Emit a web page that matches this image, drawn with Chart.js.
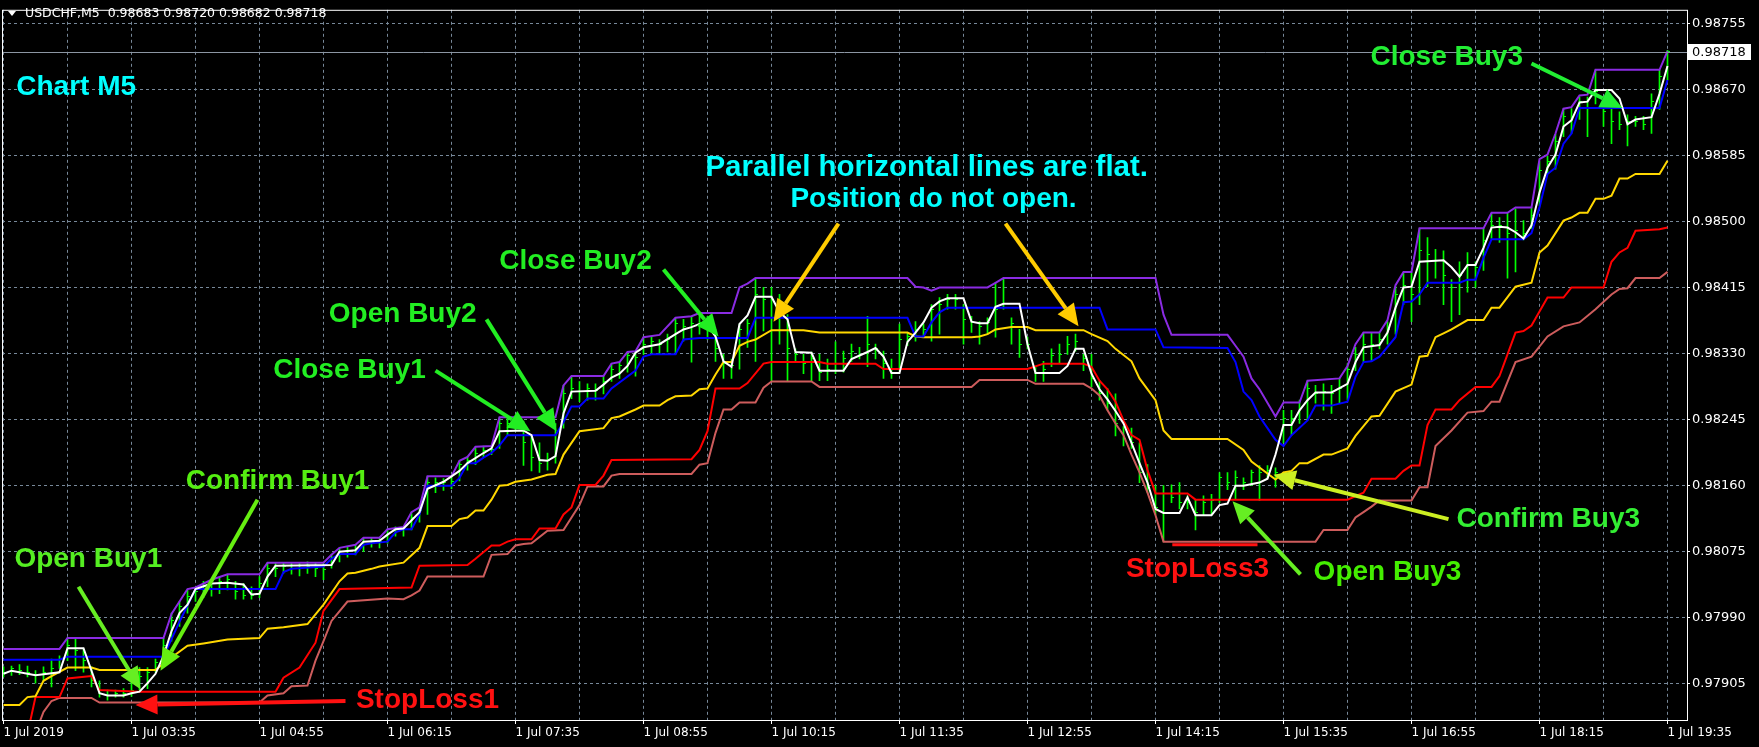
<!DOCTYPE html>
<html><head><meta charset="utf-8">
<script src="https://cdn.jsdelivr.net/npm/chart.js@4/dist/chart.umd.min.js"></script>
<style>html,body{margin:0;padding:0;background:#000;overflow:hidden}canvas{display:block}</style>
</head><body>
<canvas id="c" width="1759" height="747"></canvas>
<script>
// ---------- data ----------
const symbolTitle = 'USDCHF,M5  0.98683 0.98720 0.98682 0.98718';
const lastPrice = 0.98718;
const priceTicks = [0.97905,0.97990,0.98075,0.98160,0.98245,0.98330,0.98415,0.98500,0.98585,0.98670,0.98755];
const labelBars = [0,16,32,48,64,80,96,112,128,144,160,176,192,208];
const timeLabels = ['1 Jul 2019','1 Jul 03:35','1 Jul 04:55','1 Jul 06:15','1 Jul 07:35','1 Jul 08:55','1 Jul 10:15','1 Jul 11:35','1 Jul 12:55','1 Jul 14:15','1 Jul 15:35','1 Jul 16:55','1 Jul 18:15','1 Jul 19:35'];
const gridBars = [0,8,16,24,32,40,48,56,64,72,80,88,96,104,112,120,128,136,144,152,160,168,176,184,192,200,208];

const barHigh = [0.97927,0.97928,0.97930,0.97928,0.97922,0.97927,0.97937,0.97941,0.97964,0.97963,
0.97950,0.97927,0.97909,0.97897,0.97897,0.97899,0.97909,0.97926,0.97926,0.97937,
0.97964,0.97996,0.98011,0.98026,0.98029,0.98037,0.98039,0.98042,0.98046,0.98037,
0.98034,0.98030,0.98043,0.98061,0.98060,0.98061,0.98061,0.98060,0.98062,0.98061,
0.98061,0.98071,0.98080,0.98081,0.98084,0.98093,0.98093,0.98093,0.98104,0.98107,
0.98107,0.98126,0.98132,0.98172,0.98170,0.98169,0.98172,0.98192,0.98197,0.98210,
0.98211,0.98211,0.98248,0.98248,0.98248,0.98243,0.98225,0.98215,0.98202,0.98240,
0.98289,0.98301,0.98294,0.98291,0.98291,0.98301,0.98317,0.98319,0.98332,0.98333,
0.98351,0.98352,0.98348,0.98355,0.98376,0.98374,0.98378,0.98382,0.98378,0.98361,
0.98329,0.98323,0.98368,0.98374,0.98427,0.98415,0.98415,0.98406,0.98380,0.98336,
0.98329,0.98332,0.98329,0.98323,0.98345,0.98333,0.98342,0.98338,0.98378,0.98342,
0.98333,0.98323,0.98368,0.98357,0.98371,0.98368,0.98393,0.98402,0.98406,0.98406,
0.98393,0.98378,0.98371,0.98376,0.98421,0.98427,0.98376,0.98361,0.98351,0.98313,
0.98320,0.98336,0.98342,0.98352,0.98355,0.98329,0.98329,0.98295,0.98285,0.98278,
0.98236,0.98234,0.98215,0.98187,0.98160,0.98160,0.98161,0.98164,0.98147,0.98142,
0.98147,0.98149,0.98177,0.98177,0.98179,0.98170,0.98180,0.98186,0.98186,0.98183,
0.98257,0.98257,0.98270,0.98295,0.98289,0.98291,0.98289,0.98298,0.98317,0.98338,
0.98357,0.98357,0.98357,0.98371,0.98416,0.98434,0.98434,0.98491,0.98479,0.98464,
0.98462,0.98425,0.98448,0.98460,0.98448,0.98491,0.98510,0.98505,0.98511,0.98516,
0.98501,0.98518,0.98577,0.98584,0.98612,0.98645,0.98645,0.98660,0.98660,0.98695,
0.98651,0.98644,0.98641,0.98637,0.98635,0.98635,0.98664,0.98695,0.98720];

const barLow = [0.97914,0.97916,0.97917,0.97914,0.97906,0.97909,0.97901,0.97925,0.97935,0.97922,
0.97920,0.97901,0.97888,0.97884,0.97888,0.97888,0.97889,0.97897,0.97899,0.97920,
0.97932,0.97960,0.97979,0.97996,0.98011,0.98016,0.98018,0.98021,0.98026,0.98014,
0.98014,0.98014,0.98016,0.98030,0.98043,0.98047,0.98046,0.98044,0.98047,0.98043,
0.98039,0.98054,0.98062,0.98068,0.98071,0.98075,0.98081,0.98080,0.98086,0.98095,
0.98095,0.98103,0.98113,0.98123,0.98151,0.98154,0.98156,0.98166,0.98180,0.98187,
0.98196,0.98200,0.98208,0.98225,0.98230,0.98186,0.98179,0.98177,0.98180,0.98189,
0.98234,0.98272,0.98268,0.98270,0.98270,0.98278,0.98294,0.98298,0.98306,0.98301,
0.98329,0.98329,0.98329,0.98332,0.98329,0.98346,0.98319,0.98355,0.98348,0.98320,
0.98298,0.98298,0.98310,0.98338,0.98320,0.98359,0.98295,0.98342,0.98295,0.98319,
0.98304,0.98295,0.98295,0.98295,0.98304,0.98306,0.98320,0.98323,0.98313,0.98323,
0.98298,0.98298,0.98308,0.98340,0.98346,0.98351,0.98346,0.98355,0.98387,0.98387,
0.98342,0.98357,0.98342,0.98355,0.98351,0.98387,0.98342,0.98325,0.98336,0.98294,
0.98294,0.98313,0.98317,0.98329,0.98333,0.98308,0.98287,0.98270,0.98257,0.98224,
0.98211,0.98208,0.98164,0.98151,0.98123,0.98088,0.98138,0.98130,0.98130,0.98103,
0.98122,0.98122,0.98138,0.98155,0.98142,0.98155,0.98160,0.98141,0.98170,0.98158,
0.98215,0.98225,0.98240,0.98244,0.98266,0.98257,0.98253,0.98266,0.98270,0.98308,
0.98319,0.98320,0.98336,0.98342,0.98355,0.98393,0.98371,0.98393,0.98416,0.98427,
0.98393,0.98371,0.98380,0.98409,0.98415,0.98437,0.98478,0.98473,0.98427,0.98435,
0.98476,0.98491,0.98520,0.98562,0.98567,0.98609,0.98613,0.98631,0.98609,0.98651,
0.98622,0.98600,0.98618,0.98597,0.98622,0.98618,0.98613,0.98644,0.98682];

const barClose = [0.97920,0.97925,0.97922,0.97920,0.97916,0.97920,0.97925,0.97937,0.97954,0.97948,
0.97935,0.97909,0.97893,0.97890,0.97892,0.97893,0.97897,0.97915,0.97920,0.97932,
0.97954,0.97986,0.98005,0.98018,0.98024,0.98030,0.98034,0.98037,0.98039,0.98024,
0.98019,0.98019,0.98034,0.98054,0.98054,0.98056,0.98053,0.98054,0.98056,0.98054,
0.98052,0.98067,0.98075,0.98077,0.98079,0.98088,0.98089,0.98088,0.98098,0.98103,
0.98104,0.98119,0.98128,0.98164,0.98164,0.98164,0.98166,0.98187,0.98192,0.98202,
0.98205,0.98207,0.98240,0.98240,0.98243,0.98215,0.98196,0.98189,0.98192,0.98228,
0.98278,0.98285,0.98281,0.98285,0.98282,0.98294,0.98310,0.98314,0.98327,0.98325,
0.98342,0.98345,0.98342,0.98348,0.98368,0.98365,0.98368,0.98370,0.98361,0.98336,
0.98317,0.98314,0.98361,0.98368,0.98406,0.98399,0.98399,0.98380,0.98336,0.98329,
0.98317,0.98323,0.98306,0.98310,0.98317,0.98323,0.98332,0.98329,0.98342,0.98336,
0.98317,0.98306,0.98348,0.98352,0.98361,0.98361,0.98387,0.98393,0.98399,0.98399,
0.98374,0.98370,0.98365,0.98370,0.98387,0.98394,0.98368,0.98342,0.98342,0.98304,
0.98310,0.98327,0.98329,0.98342,0.98345,0.98323,0.98298,0.98278,0.98266,0.98240,
0.98221,0.98215,0.98177,0.98157,0.98132,0.98126,0.98145,0.98138,0.98138,0.98126,
0.98138,0.98141,0.98170,0.98164,0.98170,0.98164,0.98177,0.98177,0.98179,0.98177,
0.98247,0.98247,0.98259,0.98285,0.98278,0.98281,0.98278,0.98285,0.98310,0.98329,
0.98342,0.98342,0.98348,0.98361,0.98406,0.98418,0.98406,0.98463,0.98457,0.98450,
0.98431,0.98415,0.98431,0.98444,0.98441,0.98476,0.98495,0.98495,0.98485,0.98488,
0.98485,0.98507,0.98565,0.98577,0.98603,0.98635,0.98635,0.98654,0.98647,0.98667,
0.98641,0.98628,0.98625,0.98628,0.98628,0.98625,0.98654,0.98686,0.98718];

// indicator lines: [bar index, price] vertices
const channelUpper = [[0,0.97950],[7,0.97950],[8,0.97964],[20,0.97964],[21,0.97995],[23,0.98027],[24,0.98029],[26,0.98039],[28,0.98046],[32,0.98046],[33,0.98061],[40,0.98061],[41,0.98071],[42,0.98080],[44,0.98084],[45,0.98093],[47,0.98093],[48,0.98104],[50,0.98107],[51,0.98126],[52,0.98132],[53,0.98172],[56,0.98172],[57,0.98192],[58,0.98197],[59,0.98210],[61,0.98211],[62,0.98248],[69,0.98248],[70,0.98289],[71,0.98301],[75,0.98301],[76,0.98317],[77,0.98319],[78,0.98332],[79,0.98333],[80,0.98351],[82,0.98354],[84,0.98376],[86,0.98378],[87,0.98382],[91,0.98382],[92,0.98415],[93,0.98420],[94,0.98427],[113,0.98427],[114,0.98416],[115,0.98415],[116,0.98411],[117,0.98415],[123,0.98415],[124,0.98421],[125,0.98427],[144,0.98427],[145,0.98380],[146,0.98354],[153,0.98354],[154,0.98340],[155,0.98326],[156,0.98298],[157,0.98284],[159,0.98249],[160,0.98267],[162,0.98267],[163,0.98295],[167,0.98298],[168,0.98314],[169,0.98342],[170,0.98357],[172,0.98357],[173,0.98373],[174,0.98418],[175,0.98435],[176,0.98435],[177,0.98491],[185,0.98491],[186,0.98511],[188,0.98511],[189,0.98518],[191,0.98518],[192,0.98580],[193,0.98586],[194,0.98613],[195,0.98645],[196,0.98647],[197,0.98662],[198,0.98663],[199,0.98695],[207,0.98695],[208,0.98719]];

const channelMid = [[0,0.97936],[7,0.97936],[8,0.97940],[20,0.97940],[22,0.97985],[24,0.98027],[34,0.98027],[35,0.98049],[36,0.98053],[40,0.98056],[41,0.98066],[42,0.98072],[44,0.98072],[45,0.98084],[46,0.98086],[48,0.98088],[49,0.98100],[50,0.98104],[51,0.98104],[52,0.98123],[53,0.98160],[56,0.98160],[57,0.98170],[58,0.98189],[59,0.98189],[60,0.98196],[61,0.98202],[62,0.98212],[63,0.98225],[69,0.98225],[70,0.98242],[71,0.98262],[72,0.98262],[73,0.98272],[75,0.98272],[76,0.98285],[79,0.98308],[80,0.98326],[81,0.98329],[84,0.98329],[85,0.98348],[87,0.98350],[93,0.98350],[94,0.98376],[113,0.98376],[114,0.98352],[115,0.98352],[116,0.98370],[117,0.98383],[118,0.98389],[137,0.98389],[138,0.98361],[144,0.98361],[145,0.98338],[153,0.98337],[154,0.98319],[155,0.98281],[156,0.98270],[157,0.98249],[158,0.98234],[159,0.98219],[160,0.98211],[161,0.98225],[163,0.98244],[164,0.98263],[166,0.98263],[168,0.98268],[169,0.98300],[170,0.98319],[171,0.98320],[172,0.98326],[174,0.98351],[175,0.98396],[176,0.98397],[177,0.98406],[178,0.98421],[182,0.98421],[183,0.98425],[184,0.98425],[185,0.98453],[186,0.98477],[190,0.98477],[191,0.98485],[192,0.98518],[193,0.98561],[194,0.98569],[195,0.98600],[196,0.98613],[197,0.98646],[207,0.98646],[208,0.98682]];

const smoothPrice = [[0,0.97918],[1,0.97922],[4,0.97916],[7,0.97920],[8,0.97951],[10,0.97951],[12,0.97893],[13,0.97890],[15,0.97890],[16,0.97893],[17,0.97895],[18,0.97906],[19,0.97918],[20,0.97941],[21,0.97973],[22,0.97996],[23,0.98007],[24,0.98027],[26,0.98034],[28,0.98035],[30,0.98033],[31,0.98020],[32,0.98021],[33,0.98043],[34,0.98057],[41,0.98058],[42,0.98075],[44,0.98077],[45,0.98088],[47,0.98089],[48,0.98097],[49,0.98104],[50,0.98105],[52,0.98126],[53,0.98156],[55,0.98165],[57,0.98179],[58,0.98189],[60,0.98202],[61,0.98208],[62,0.98230],[65,0.98231],[66,0.98225],[67,0.98193],[68,0.98192],[69,0.98198],[70,0.98253],[71,0.98281],[74,0.98282],[75,0.98290],[76,0.98299],[77,0.98304],[78,0.98314],[79,0.98331],[80,0.98338],[82,0.98342],[84,0.98355],[85,0.98361],[86,0.98364],[87,0.98368],[88,0.98366],[89,0.98352],[90,0.98320],[91,0.98313],[92,0.98368],[93,0.98379],[94,0.98403],[96,0.98403],[97,0.98383],[98,0.98374],[99,0.98332],[101,0.98331],[102,0.98308],[105,0.98308],[106,0.98323],[108,0.98332],[109,0.98337],[110,0.98326],[111,0.98305],[112,0.98305],[113,0.98345],[114,0.98357],[115,0.98370],[116,0.98389],[117,0.98397],[118,0.98401],[120,0.98401],[121,0.98371],[122,0.98369],[123,0.98369],[124,0.98390],[125,0.98394],[127,0.98394],[128,0.98342],[129,0.98305],[132,0.98305],[133,0.98314],[134,0.98336],[135,0.98336],[136,0.98304],[137,0.98284],[138,0.98271],[139,0.98256],[140,0.98240],[141,0.98215],[142,0.98189],[143,0.98164],[144,0.98130],[145,0.98125],[147,0.98125],[148,0.98145],[149,0.98122],[151,0.98122],[152,0.98135],[153,0.98137],[154,0.98160],[155,0.98160],[157,0.98164],[158,0.98169],[159,0.98200],[160,0.98238],[161,0.98238],[162,0.98257],[163,0.98270],[164,0.98280],[166,0.98280],[168,0.98291],[169,0.98319],[170,0.98338],[172,0.98341],[173,0.98357],[174,0.98389],[175,0.98415],[176,0.98416],[177,0.98448],[180,0.98450],[181,0.98441],[182,0.98429],[183,0.98444],[184,0.98444],[185,0.98466],[186,0.98492],[187,0.98493],[188,0.98492],[189,0.98486],[190,0.98478],[191,0.98495],[192,0.98537],[193,0.98569],[194,0.98586],[195,0.98622],[196,0.98630],[197,0.98653],[198,0.98654],[199,0.98669],[201,0.98669],[202,0.98658],[203,0.98625],[204,0.98631],[206,0.98634],[207,0.98664],[208,0.98700]];

const signalLine = [[0,0.97878],[2,0.97878],[3,0.97888],[4,0.97889],[5,0.97909],[6,0.97915],[8,0.97926],[11,0.97926],[12,0.97923],[19,0.97923],[20,0.97931],[21,0.97939],[23,0.97954],[25,0.97957],[28,0.97962],[32,0.97964],[33,0.97976],[35,0.97978],[38,0.97982],[40,0.98007],[42,0.98037],[43,0.98047],[44,0.98048],[46,0.98053],[47,0.98056],[50,0.98061],[52,0.98080],[53,0.98108],[56,0.98108],[57,0.98117],[58,0.98119],[59,0.98128],[60,0.98128],[61,0.98142],[62,0.98160],[63,0.98161],[64,0.98165],[66,0.98168],[68,0.98174],[69,0.98175],[70,0.98200],[71,0.98215],[72,0.98230],[75,0.98234],[76,0.98247],[77,0.98249],[79,0.98258],[80,0.98263],[82,0.98263],[83,0.98270],[84,0.98275],[86,0.98276],[87,0.98284],[88,0.98285],[89,0.98303],[90,0.98319],[91,0.98319],[92,0.98340],[93,0.98345],[94,0.98348],[96,0.98360],[100,0.98360],[102,0.98357],[113,0.98357],[114,0.98352],[115,0.98351],[121,0.98351],[122,0.98352],[123,0.98355],[124,0.98361],[126,0.98364],[128,0.98364],[129,0.98360],[135,0.98360],[136,0.98355],[138,0.98346],[139,0.98336],[141,0.98320],[142,0.98298],[144,0.98270],[145,0.98231],[146,0.98220],[153,0.98220],[155,0.98206],[156,0.98191],[159,0.98168],[160,0.98177],[161,0.98179],[162,0.98189],[163,0.98189],[165,0.98200],[166,0.98200],[168,0.98208],[169,0.98224],[171,0.98249],[172,0.98250],[174,0.98281],[176,0.98290],[177,0.98326],[178,0.98327],[179,0.98351],[180,0.98356],[181,0.98361],[183,0.98373],[185,0.98373],[186,0.98389],[187,0.98389],[189,0.98416],[191,0.98421],[192,0.98460],[193,0.98469],[195,0.98501],[196,0.98505],[197,0.98511],[198,0.98511],[199,0.98529],[200,0.98529],[201,0.98533],[202,0.98555],[203,0.98555],[204,0.98561],[207,0.98561],[208,0.98578]];

const stopLine = [[3,0.97841],[4,0.97888],[7,0.97888],[8,0.97912],[11,0.97915],[12,0.97897],[17,0.97895],[34,0.97895],[35,0.97913],[37,0.97926],[39,0.97958],[40,0.97999],[42,0.98027],[51,0.98029],[52,0.98057],[58,0.98058],[59,0.98066],[61,0.98083],[62,0.98083],[63,0.98088],[64,0.98091],[66,0.98091],[67,0.98105],[69,0.98105],[70,0.98123],[71,0.98132],[72,0.98161],[74,0.98161],[75,0.98173],[76,0.98193],[86,0.98194],[87,0.98206],[88,0.98230],[89,0.98285],[92,0.98285],[93,0.98292],[95,0.98317],[96,0.98319],[102,0.98319],[103,0.98317],[109,0.98317],[110,0.98310],[128,0.98310],[130,0.98317],[135,0.98317],[136,0.98313],[137,0.98295],[138,0.98284],[139,0.98268],[140,0.98244],[141,0.98225],[142,0.98219],[143,0.98180],[144,0.98150],[148,0.98150],[149,0.98142],[168,0.98142],[170,0.98151],[171,0.98169],[174,0.98169],[175,0.98179],[176,0.98186],[177,0.98186],[178,0.98238],[179,0.98258],[181,0.98258],[182,0.98270],[184,0.98287],[186,0.98287],[187,0.98301],[188,0.98329],[189,0.98357],[190,0.98359],[191,0.98366],[192,0.98384],[193,0.98402],[195,0.98402],[196,0.98415],[200,0.98415],[201,0.98448],[202,0.98460],[203,0.98466],[204,0.98488],[207,0.98490],[208,0.98492]];

const trailLine = [[4,0.97842],[5,0.97869],[6,0.97883],[7,0.97887],[11,0.97887],[12,0.97881],[32,0.97881],[33,0.97890],[35,0.97893],[36,0.97902],[38,0.97903],[39,0.97935],[40,0.97960],[41,0.97986],[43,0.98011],[48,0.98015],[50,0.98014],[51,0.98019],[52,0.98025],[53,0.98043],[60,0.98043],[61,0.98071],[63,0.98072],[64,0.98083],[65,0.98085],[66,0.98086],[68,0.98102],[70,0.98103],[72,0.98135],[73,0.98159],[75,0.98159],[76,0.98173],[77,0.98175],[86,0.98175],[87,0.98187],[88,0.98189],[89,0.98228],[90,0.98258],[91,0.98258],[92,0.98267],[94,0.98267],[95,0.98286],[96,0.98294],[101,0.98294],[102,0.98287],[121,0.98287],[122,0.98296],[128,0.98296],[129,0.98291],[135,0.98291],[136,0.98285],[137,0.98276],[138,0.98257],[139,0.98240],[140,0.98225],[141,0.98200],[142,0.98177],[143,0.98151],[144,0.98122],[145,0.98088],[164,0.98088],[165,0.98103],[168,0.98103],[169,0.98119],[170,0.98126],[171,0.98133],[172,0.98141],[176,0.98141],[177,0.98158],[178,0.98158],[179,0.98211],[181,0.98231],[183,0.98254],[185,0.98256],[186,0.98268],[187,0.98268],[189,0.98319],[191,0.98326],[193,0.98352],[195,0.98365],[197,0.98370],[199,0.98387],[201,0.98406],[202,0.98413],[203,0.98414],[204,0.98427],[207,0.98427],[208,0.98435]];

// annotations anchored in (bar index, price)
const notes = [
  {t:'Chart M5', at:[1.6,0.98673], c:'#00ffff', a:'left'},
  {t:'Open Buy1', at:[10.6,0.98065], c:'#55ee22'},
  {t:'Confirm Buy1', at:[34.25,0.98166], c:'#55ee11'},
  {t:'Close Buy1', at:[43.25,0.98309], c:'#22ee22'},
  {t:'Open Buy2', at:[49.9,0.98380], c:'#22ee22'},
  {t:'Close Buy2', at:[71.5,0.98449], c:'#22ee22'},
  {t:'Parallel horizontal lines are flat.', at:[115.4,0.98569], c:'#00ffff', s:29.5},
  {t:'Position do not open.', at:[116.25,0.98528], c:'#00ffff'},
  {t:'Close Buy3', at:[180.4,0.98711], c:'#22ee33'},
  {t:'Confirm Buy3', at:[193.1,0.98117], c:'#33ee33'},
  {t:'Open Buy3', at:[173,0.98049], c:'#44ee00'},
  {t:'StopLoss3', at:[149.25,0.98052], c:'#ff1111'},
  {t:'StopLoss1', at:[53,0.97884], c:'#ff1111'}
];
const arrows = [
  {from:[9.375,0.98030], to:[17.125,0.97898], c:'#66ee22'},
  {from:[31.75,0.98142], to:[19.625,0.97922], c:'#66ee11'},
  {from:[54,0.98308], to:[65.875,0.98230], c:'#22ee22'},
  {from:[60.375,0.98374], to:[69.125,0.98230], c:'#22ee22'},
  {from:[82.5,0.98438], to:[89.375,0.98352], c:'#22ee22'},
  {from:[104.375,0.98497], to:[96.25,0.98371], c:'#ffcc00'},
  {from:[125.25,0.98497], to:[134.375,0.98365], c:'#ffcc00'},
  {from:[191,0.98703], to:[202.375,0.98646], c:'#22ee33'},
  {from:[180.625,0.98117], to:[158.75,0.98174], c:'#ccee22'},
  {from:[162.125,0.98046], to:[153.625,0.98140], c:'#66ee22'},
  {from:[42.75,0.97883], to:[16.5,0.97878], c:'#ff1111'}
];
const stopMarks = [{from:[146.1,0.98084], to:[156.75,0.98084], c:'#ff1111'}];

// ---------- chart ----------
const xy = arr => arr.map(p => ({x:p[0], y:p[1]}));
const barData = barHigh.map((h,k) => ({x:k, y:[barLow[k], h]}));
const closeData = barClose.map((c,k) => ({x:k, y:c}));

const tickImg = document.createElement('canvas');
tickImg.width = 7; tickImg.height = 1;
(function(){ const t = tickImg.getContext('2d'); t.fillStyle = '#00ff00'; t.fillRect(4,0,2,1); })();

const X_MIN = -0.1875, X_MAX = 210.4375;
const Y_MAX = 0.9877218, Y_MIN = 0.9785855;

function line(data, color, order){
  return {type:'line', data:xy(data), borderColor:color, borderWidth:2, pointRadius:0, pointHoverRadius:0, tension:0, fill:false, order, clip:0};
}

function drawArrow(ctx, x1, y1, x2, y2, color){
  const ang = Math.atan2(y2-y1, x2-x1), hl = 22, hw = 10;
  const bx = x2 - hl*Math.cos(ang), by = y2 - hl*Math.sin(ang);
  ctx.save();
  ctx.strokeStyle = color; ctx.fillStyle = color; ctx.lineWidth = 4; ctx.lineCap = 'butt';
  ctx.beginPath(); ctx.moveTo(x1,y1); ctx.lineTo(bx,by); ctx.stroke();
  ctx.beginPath(); ctx.moveTo(x2,y2);
  ctx.lineTo(bx + hw*Math.sin(ang), by - hw*Math.cos(ang));
  ctx.lineTo(bx - hw*Math.sin(ang), by + hw*Math.cos(ang));
  ctx.closePath(); ctx.fill();
  ctx.restore();
}

const overlay = {
  id:'overlay',
  beforeDraw(chart){ const c = chart.ctx; c.save(); c.fillStyle = '#000'; c.fillRect(0,0,chart.width,chart.height); c.restore(); },
  beforeDatasetsDraw(chart){ chart.ctx.imageSmoothingEnabled = false; },
  afterDatasetsDraw(chart){
    const {ctx, chartArea:a, scales:{y}} = chart;
    const py = Math.round(y.getPixelForValue(lastPrice)) + 0.5;
    ctx.save(); ctx.strokeStyle = '#8c96a3'; ctx.lineWidth = 1;
    ctx.beginPath(); ctx.moveTo(a.left, py); ctx.lineTo(a.right, py); ctx.stroke(); ctx.restore();
  },
  afterDraw(chart){
    const {ctx, chartArea:a, scales:{x,y}} = chart;
    ctx.save();
    ctx.strokeStyle = '#ffffff'; ctx.lineWidth = 1;
    ctx.strokeRect(a.left+0.5, a.top+0.5, a.right-a.left, a.bottom-a.top);
    const py = Math.round(y.getPixelForValue(lastPrice));
    ctx.fillStyle = '#ffffff'; ctx.fillRect(a.right+1, py-8, 63, 16);
    ctx.fillStyle = '#000000'; ctx.font = '13px "DejaVu Sans"'; ctx.textBaseline = 'middle'; ctx.textAlign = 'left';
    ctx.fillText(lastPrice.toFixed(5), a.right+5, py+0.5);
    ctx.fillStyle = '#ffffff';
    ctx.beginPath(); ctx.moveTo(8,11); ctx.lineTo(16,11); ctx.lineTo(12,16); ctx.closePath(); ctx.fill();
    ctx.font = '12.5px "DejaVu Sans"'; ctx.textBaseline = 'middle';
    ctx.fillText(symbolTitle, 25, 14);
    stopMarks.forEach(s => {
      ctx.strokeStyle = s.c; ctx.lineWidth = 3; ctx.beginPath();
      ctx.moveTo(x.getPixelForValue(s.from[0]), y.getPixelForValue(s.from[1]));
      ctx.lineTo(x.getPixelForValue(s.to[0]), y.getPixelForValue(s.to[1])); ctx.stroke();
    });
    arrows.forEach(r => drawArrow(ctx, x.getPixelForValue(r.from[0]), y.getPixelForValue(r.from[1]), x.getPixelForValue(r.to[0]), y.getPixelForValue(r.to[1]), r.c));
    ctx.textBaseline = 'middle';
    notes.forEach(n => {
      ctx.font = 'bold ' + (n.s || 28) + 'px "Liberation Sans", Arial, sans-serif';
      ctx.fillStyle = n.c; ctx.textAlign = n.a || 'center';
      ctx.fillText(n.t, x.getPixelForValue(n.at[0]), y.getPixelForValue(n.at[1]));
    });
    ctx.restore();
  }
};

new Chart(document.getElementById('c'), {
  type:'bar',
  data:{datasets:[
    line(smoothPrice, '#ffffff', 0),
    line(channelUpper, '#8a2be2', 1),
    line(channelMid, '#0000ff', 2),
    line(signalLine, '#ffd700', 3),
    line(stopLine, '#ff0000', 4),
    line(trailLine, '#cd5c5c', 5),
    {type:'line', data:closeData, showLine:false, pointStyle:tickImg, pointRadius:1, pointHoverRadius:1, order:6, clip:0},
    {type:'bar', data:barData, backgroundColor:'#00ff00', borderWidth:0, barThickness:1, grouped:false, order:7, clip:0}
  ]},
  options:{
    responsive:false, animation:false, devicePixelRatio:1, events:[],
    layout:{padding:{left:2, top:2, right:0, bottom:0}},
    plugins:{legend:{display:false}, tooltip:{enabled:false}, title:{display:false}},
    scales:{
      x:{type:'linear', min:X_MIN, max:X_MAX, offset:false,
        afterBuildTicks: s => { s.ticks = gridBars.map(v => ({value:v})); },
        afterFit: s => { s.height = 27; },
        ticks:{autoSkip:false, maxRotation:0, minRotation:0, align:'start', padding:2, color:'#ffffff',
          font:{family:'"DejaVu Sans"', size:12},
          callback: v => { const k = labelBars.indexOf(v); return k >= 0 ? timeLabels[k] : ''; }},
        grid:{color:'#778899', lineWidth:1, offset:false, drawTicks:true, tickLength:4,
          tickColor: c => (c.tick && labelBars.indexOf(c.tick.value) >= 0) ? '#ffffff' : 'rgba(0,0,0,0)'},
        border:{display:false, dash:[3,3]}
      },
      y:{type:'linear', position:'right', min:Y_MIN, max:Y_MAX,
        afterBuildTicks: s => { s.ticks = priceTicks.map(v => ({value:v})); },
        afterFit: s => { s.width = 72; },
        ticks:{color:'#ffffff', padding:2, font:{family:'"DejaVu Sans"', size:13}, callback: v => v.toFixed(5)},
        grid:{color:'#778899', lineWidth:1, drawTicks:true, tickLength:3, tickColor:'#ffffff'},
        border:{display:false, dash:[3,3]}
      }
    }
  },
  plugins:[overlay]
});
</script>
</body></html>
